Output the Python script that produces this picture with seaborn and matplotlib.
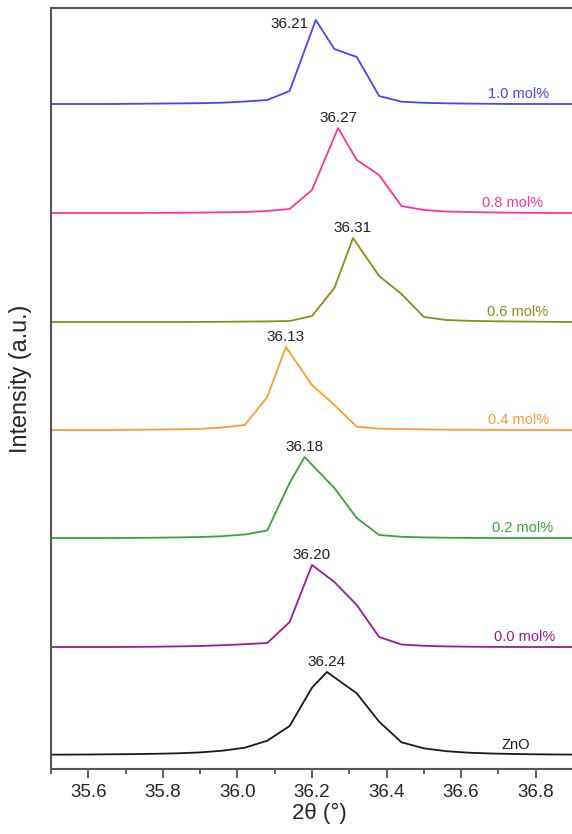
import matplotlib
matplotlib.use("Agg")
import matplotlib.pyplot as plt
import numpy as np
import pandas as pd
import seaborn as sns
from matplotlib.ticker import MultipleLocator

# Shared 2-theta sampling grid (degrees)
two_theta = [35.48, 35.54, 35.60, 35.66, 35.72, 35.78, 35.84, 35.90, 35.96,
             36.02, 36.08, 36.14, 36.20, 36.26, 36.32, 36.38, 36.44, 36.50,
             36.56, 36.62, 36.68, 36.74, 36.80, 36.86, 36.92]

# (101) reflection intensities above each trace's own baseline (a.u.)
zno_int  = [0, 0.1, 0.2, 0.4, 0.6, 0.9, 1.4, 2.3, 4, 7, 14, 28.7, 67, 82.7,
            61.4, 33, 12.4, 6.4, 3.5, 2, 1.2, 0.7, 0.4, 0.2, 0.1]
d00_int  = [0, 0, 0, 0, 0.1, 0.3, 0.6, 1, 1.8, 2.8, 4, 25, 82, 65, 42, 10,
            2.5, 1.2, 0.6, 0.3, 0.1, 0, 0, 0, 0]
d02_int  = [0, 0, 0, 0, 0.1, 0.3, 0.6, 1, 1.8, 3.5, 7.5, 55, 81, 50, 20, 3,
            1.2, 0.6, 0.3, 0.1, 0, 0, 0, 0, 0]
d04_int  = [0, 0, 0, 0, 0.2, 0.4, 0.7, 1.2, 2.5, 5, 33, 83, 45, 25, 3.3, 1.3,
            1, 0.6, 0.3, 0.2, 0.1, 0, 0, 0, 0]
d06_int  = [0, 0, 0, 0, 0, 0, 0, 0.1, 0.2, 0.4, 0.6, 1, 6, 34, 84, 46, 28, 5,
            2, 1.2, 0.8, 0.5, 0.3, 0.1, 0]
d08_int  = [0, 0, 0, 0, 0, 0.1, 0.2, 0.4, 0.7, 1, 2, 4, 23, 85, 53, 38, 7, 3,
            1.5, 1, 0.6, 0.3, 0.1, 0, 0]
d10_int  = [0, 0, 0, 0, 0.2, 0.4, 0.6, 0.8, 1.3, 2.5, 4, 13, 84, 55, 47, 8,
            2.3, 1.2, 0.7, 0.4, 0.2, 0, 0, 0, 0]

samples  = ["ZnO", "0.0 mol%", "0.2 mol%", "0.4 mol%", "0.6 mol%", "0.8 mol%", "1.0 mol%"]
traces   = [zno_int, d00_int, d02_int, d04_int, d06_int, d08_int, d10_int]
peak_pos = [36.24, 36.20, 36.18, 36.13, 36.31, 36.27, 36.21]   # fitted peak centres
offsets  = [14.3, 122, 231, 339, 447, 556, 665]                   # vertical stacking

colors = ["#1a1a1a", "#9c1a9c", "#3aa33a", "#ff9933", "#8c8c1a", "#ff3399", "#4545ff"]

# Long-form table; the apex sample of each trace sits at its fitted centre
rows = []
for name, inten, pk, off in zip(samples, traces, peak_pos, offsets):
    x = list(two_theta)
    x[int(np.argmax(inten))] = pk
    for xi, yi in zip(x, inten):
        rows.append({"sample": name, "two_theta": xi, "intensity": yi + off})
df = pd.DataFrame(rows)

sns.set_style("ticks")
plt.rcParams["font.family"] = ["Liberation Sans", "DejaVu Sans"]

fig = plt.figure(figsize=(5.72, 8.34), dpi=100)
ax = fig.add_axes([51 / 572, 65 / 834, 522 / 572, 761 / 834])

sns.lineplot(data=df, x="two_theta", y="intensity", hue="sample",
             hue_order=samples, palette=colors, estimator=None, sort=False,
             linewidth=1.3, legend=False, ax=ax)

# Peak-centre annotations
for i, (inten, pk, off) in enumerate(zip(traces, peak_pos, offsets)):
    top = max(inten) + off
    if samples[i] == "1.0 mol%":
        ax.text(pk - 0.02, top - 4, f"{pk:.2f}", ha="right", va="center",
                fontsize=11, color="#222222")
    else:
        ax.text(pk, top + 3, f"{pk:.2f}", ha="center", va="bottom",
                fontsize=11, color="#222222")

# Sample tags at the right end of each trace
tag_x = [36.747, 36.769, 36.764, 36.755, 36.752, 36.737, 36.753]
for name, col, off, tx in zip(samples, colors, offsets, tag_x):
    ax.text(tx, off + 3, name, ha="center", va="bottom", fontsize=10.5, color=col)

ax.set_xlim(35.5, 36.9)
ax.set_ylim(0, 761)
ax.xaxis.set_major_locator(MultipleLocator(0.2))
ax.xaxis.set_minor_locator(MultipleLocator(0.1))
ax.xaxis.set_major_formatter(matplotlib.ticker.FormatStrFormatter("%.1f"))
ax.set_yticks([])
ax.tick_params(axis="x", which="major", direction="out", length=6.5, width=1.2,
               color="#444444", labelsize=13.5, pad=4)
ax.tick_params(axis="x", which="minor", direction="out", length=3.5, width=1.2,
               color="#444444")
for side in ["left", "bottom", "top"]:
    ax.spines[side].set_color("#555555")
    ax.spines[side].set_linewidth(1.5)
ax.spines["right"].set_visible(False)

ax.set_xlabel("2θ (°)", fontsize=16, labelpad=5)
ax.xaxis.set_label_coords(0.515, -0.045)
ax.xaxis.label.set_va("top")
ax.set_ylabel("Intensity (a.u.)", fontsize=16.8)
ax.yaxis.set_label_coords(-0.036, 0.5125)

fig.savefig("out.png", dpi=100)
